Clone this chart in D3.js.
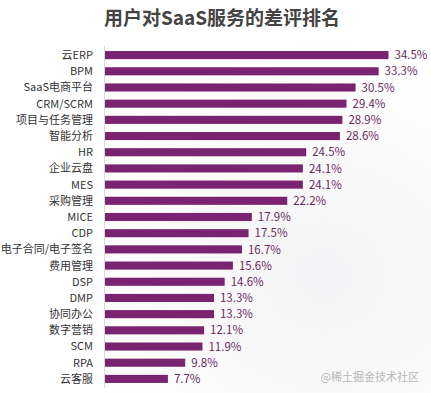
<!DOCTYPE html>
<html><head><meta charset="utf-8">
<script src="https://cdn.jsdelivr.net/npm/d3@7"></script>
<style>
html,body{margin:0;padding:0;background:#fff;}
svg{display:block;font-family:"Noto Sans CJK SC","Noto Sans",sans-serif;}
</style></head><body>
<svg id="c" width="431" height="393"></svg>
<script>
const categories = ["云ERP","BPM","SaaS电商平台","CRM/SCRM","项目与任务管理","智能分析","HR","企业云盘","MES","采购管理","MICE","CDP","电子合同/电子签名","费用管理","DSP","DMP","协同办公","数字营销","SCM","RPA","云客服"];
const values = [34.5,33.3,30.5,29.4,28.9,28.6,24.5,24.1,24.1,22.2,17.9,17.5,16.7,15.6,14.6,13.3,13.3,12.1,11.9,9.8,7.7];
const title = "用户对SaaS服务的差评排名";
const watermark = "@稀土掘金技术社区";

const svg = d3.select("#c");
const defs = svg.append("defs");
const g1 = defs.append("radialGradient").attr("id","bg").attr("cx","0.75").attr("cy","0.7").attr("r","0.6");
g1.append("stop").attr("offset","0").attr("stop-color","#f3f3f5");
g1.append("stop").attr("offset","1").attr("stop-color","#ffffff");
svg.append("rect").attr("width",431).attr("height",393).attr("fill","url(#bg)");

svg.append("text").attr("x",222).attr("y",25).attr("text-anchor","middle")
  .attr("font-size",19).attr("font-weight","bold").attr("fill","#444").text(title);

const x0 = 104.5;
const x = d3.scaleLinear().domain([0,34.5]).range([x0,388.5]);
const y = d3.scaleBand().domain(categories).range([47,387]).paddingInner(0.5).paddingOuter(0.25);

svg.append("line").attr("x1",x0).attr("x2",x0).attr("y1",46).attr("y2",388)
  .attr("stroke","#d9d9d9").attr("stroke-width",1);

svg.selectAll("rect.bar").data(values).join("rect").attr("class","bar")
  .attr("x",x0+0.5).attr("y",(d,i)=>y(categories[i]))
  .attr("width",d=>x(d)-x0-0.5).attr("height",y.bandwidth())
  .attr("fill","#7a2370");

svg.selectAll("text.cat").data(categories).join("text").attr("class","cat")
  .attr("x",93).attr("y",d=>y(d)+y.bandwidth()/2).attr("dy","0.36em")
  .attr("text-anchor","end").attr("font-size",11).attr("fill","#333").text(d=>d);

svg.selectAll("text.val").data(values).join("text").attr("class","val")
  .attr("x",d=>x(d)+6).attr("y",(d,i)=>y(categories[i])+y.bandwidth()/2).attr("dy","0.36em")
  .attr("font-size",11.5).attr("fill","#6b2a63").text(d=>d.toFixed(1)+"%");

svg.append("text").attr("x",419).attr("y",381).attr("text-anchor","end")
  .attr("font-size",11).attr("fill","#b8b8b8").text(watermark);
</script>
</body></html>
